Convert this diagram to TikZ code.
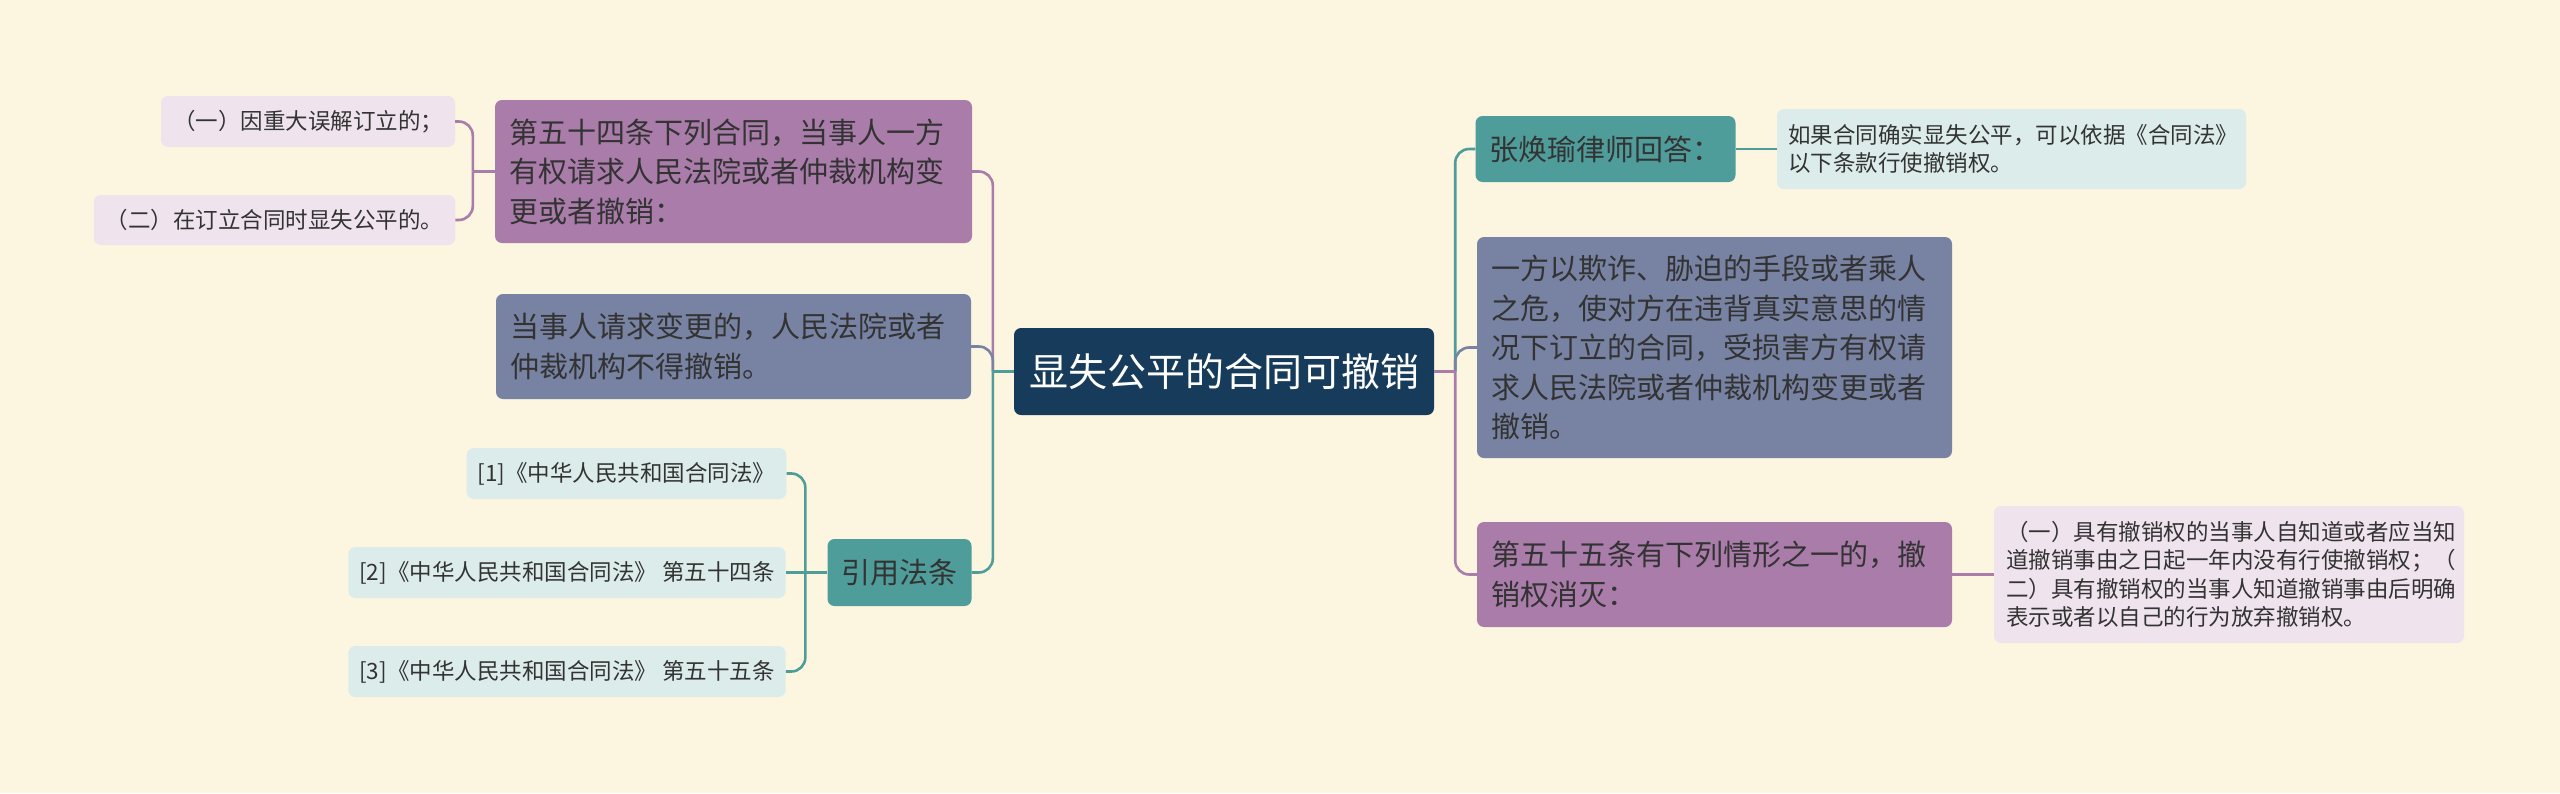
\documentclass[tikz,border=0pt]{standalone}
\usepackage{fontspec}
\setmainfont{Noto Sans CJK SC}
\definecolor{bg}{HTML}{FCF5E0}
\definecolor{cRoot}{HTML}{173B5A}
\definecolor{cP}{HTML}{A97CAA}
\definecolor{cG}{HTML}{7883A3}
\definecolor{cT}{HTML}{4F9D9A}
\definecolor{cLP}{HTML}{EFE4EE}
\definecolor{cLT}{HTML}{DCECEA}
\definecolor{txt}{HTML}{333333}
\begin{document}
\begin{tikzpicture}[x=1pt,y=-1pt,
  box/.style={rounded corners=7pt, inner ysep=0pt, inner xsep=14pt, align=left, text=txt},
  midfont/.style={font=\fontsize{29}{39.5}\selectfont},
  leaffont/.style={font=\fontsize{22.5}{28.5}\selectfont},
  rootbox/.style={box, fill=cRoot, text=white, align=center, font=\fontsize{39}{46}\selectfont},
  purplebox/.style={box, midfont, fill=cP},
  graybox/.style={box, midfont, fill=cG},
  tealbox/.style={box, midfont, fill=cT},
  leafP/.style={box, leaffont, fill=cLP, inner xsep=12pt},
  leafT/.style={box, leaffont, fill=cLT, inner xsep=11pt},
  conn/.style={line width=2.6pt},
  curvedconn/.style={line width=2.6pt, rounded corners=14pt}
]
\fill[bg] (0,0) rectangle (2560,793);
\useasboundingbox (0,0) rectangle (2560,793);

% nodes
\node[rootbox, minimum width=420, minimum height=87] (root) at (1224,371.5) {显失公平的合同可撤销};

\node[purplebox, text width=449, minimum height=143] (n54) at (733.5,171.5) {第五十四条下列合同，当事人一方\\有权请求人民法院或者仲裁机构变\\更或者撤销：};
\node[graybox, text width=447, minimum height=105] (nreq) at (733.5,346.5) {当事人请求变更的，人民法院或者\\仲裁机构不得撤销。};
\node[tealbox, align=center, minimum width=143, minimum height=67] (nlaw) at (899.5,572.5) {引用法条};

\node[leafP, align=center, minimum width=290, minimum height=51] (l1) at (308,121.5) {（一）因重大误解订立的；};
\node[leafP, align=center, minimum width=357, minimum height=50] (l2) at (274.5,220) {（二）在订立合同时显失公平的。};

\node[leafT, align=center, minimum width=317, minimum height=51] (r1) at (626.5,473.5) {[1]《中华人民共和国合同法》};
\node[leafT, align=center, minimum width=436, minimum height=51] (r2) at (567,572.5) {[2]《中华人民共和国合同法》 第五十四条};
\node[leafT, align=center, minimum width=436, minimum height=51] (r3) at (567,671.5) {[3]《中华人民共和国合同法》 第五十五条};

\node[tealbox, align=center, minimum width=257, minimum height=66] (nzh) at (1605.5,149) {张焕瑜律师回答：};
\node[leafT, text width=447, minimum height=80] (nzhc) at (2011.5,149) {如果合同确实显失公平，可以依据《合同法》\\以下条款行使撤销权。};

\node[graybox, text width=447, minimum height=221] (n1) at (1714.5,347.5) {一方以欺诈、胁迫的手段或者乘人\\之危，使对方在违背真实意思的情\\况下订立的合同，受损害方有权请\\求人民法院或者仲裁机构变更或者\\撤销。};
\node[purplebox, text width=447, minimum height=105] (n55) at (1714.5,574.5) {第五十五条有下列情形之一的，撤\\销权消灭：};
\node[leafP, text width=446, minimum height=137] (n55c) at (2229,574.5) {（一）具有撤销权的当事人自知道或者应当知\\道撤销事由之日起一年内没有行使撤销权；（\\二）具有撤销权的当事人知道撤销事由后明确\\表示或者以自己的行为放弃撤销权。};

% junction coordinates
\coordinate (jl) at ([xshift=-21pt]root.west);
\coordinate (jr) at ([xshift=21pt]root.east);
\coordinate (j54) at ([xshift=-22pt]n54.west);
\coordinate (jlaw) at ([xshift=-22pt]nlaw.west);

% connectors: root left
\draw[curvedconn, cP] (jl) |- (n54.east);
\draw[curvedconn, cG] (jl) |- (nreq.east);
\draw[curvedconn, cT] (jl) |- (nlaw.east);
\draw[conn, cT] (root.west) -- (jl);

% n54 leaves
\draw[curvedconn, cP] (j54) |- (l1.east);
\draw[curvedconn, cP] (j54) |- (l2.east);
\draw[conn, cP] (n54.west) -- (j54);

% law leaves
\draw[curvedconn, cT] (jlaw) |- (r1.east);
\draw[curvedconn, cT] (jlaw) |- (r3.east);
\draw[conn, cT] (nlaw.west) -- (r2.east);

% root right
\draw[curvedconn, cT] (jr) |- (nzh.west);
\draw[curvedconn, cG] (jr) |- (n1.west);
\draw[curvedconn, cP] (jr) |- (n55.west);
\draw[conn, cP] (root.east) -- (jr);

\draw[conn, cT] (nzh.east) -- (nzhc.west);
\draw[conn, cP] (n55.east) -- (n55c.west);
\end{tikzpicture}
\end{document}
